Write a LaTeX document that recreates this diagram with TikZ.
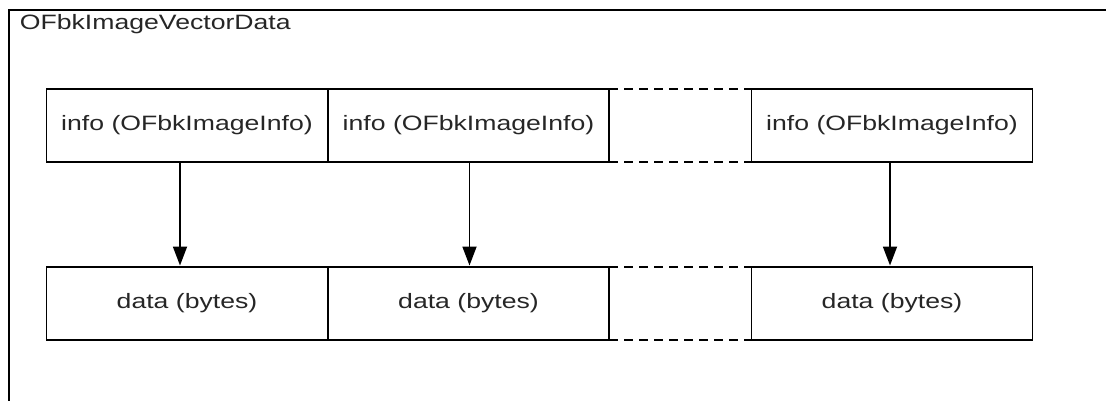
\documentclass[tikz,border=0pt]{standalone}
\usepackage{fontspec}
\usepackage{graphicx}
\setmainfont{Liberation Sans}
\usetikzlibrary{arrows.meta}
% wide sans text, as set in the drawing
\newcommand{\widetext}[1]{\scalebox{1.28}[1]{#1}}
\begin{document}
\begin{tikzpicture}[x=1pt,y=-1pt,
  line width=1.8pt,
  lbl/.style={font=\fontsize{20.8}{25}\selectfont, text=black!85},
  cell/.style={draw, lbl, minimum width=281pt, minimum height=73pt, inner sep=0pt, outer sep=0pt},
  gap/.style={dashed, dash pattern=on 9pt off 6pt},
  arr/.style={-{Triangle[length=19pt,width=14pt]}, shorten >=1.5pt}]
  \useasboundingbox (0,0) rectangle (1106,400);
  \begin{scope}
    \clip (0,0) rectangle (1106,400);
    % enclosing container, running past the page edges
    \draw (1120,10) -- (9,10) -- (9,420);
  \end{scope}
  \node[lbl, anchor=base west, inner sep=0pt] (title) at (19,29.5) {\widetext{OFbkImageVectorData}};

  % info row
  \node[cell] (i1) at (187,125.5) {\widetext{info (OFbkImageInfo)}};
  \node[cell] (i2) at (468.5,125.5) {\widetext{info (OFbkImageInfo)}};
  \node[cell] (i3) at (892,125.5) {\widetext{info (OFbkImageInfo)}};

  % data row
  \node[cell] (d1) at (187,303.5) {\widetext{data (bytes)}};
  \node[cell] (d2) at (468.5,303.5) {\widetext{data (bytes)}};
  \node[cell] (d3) at (892,303.5) {\widetext{data (bytes)}};

  % elided cells
  \draw[gap] (i2.north east) -- (i3.north west);
  \draw[gap] (i2.south east) -- (i3.south west);
  \draw[gap] (d2.north east) -- (d3.north west);
  \draw[gap] (d2.south east) -- (d3.south west);

  % info -> data
  \draw[arr] ([xshift=-7pt]i1.south) -- ([xshift=-7pt]d1.north);
  \draw[arr] ([xshift=1pt]i2.south) -- ([xshift=1pt]d2.north);
  \draw[arr] ([xshift=-2pt]i3.south) -- ([xshift=-2pt]d3.north);
\end{tikzpicture}
\end{document}
